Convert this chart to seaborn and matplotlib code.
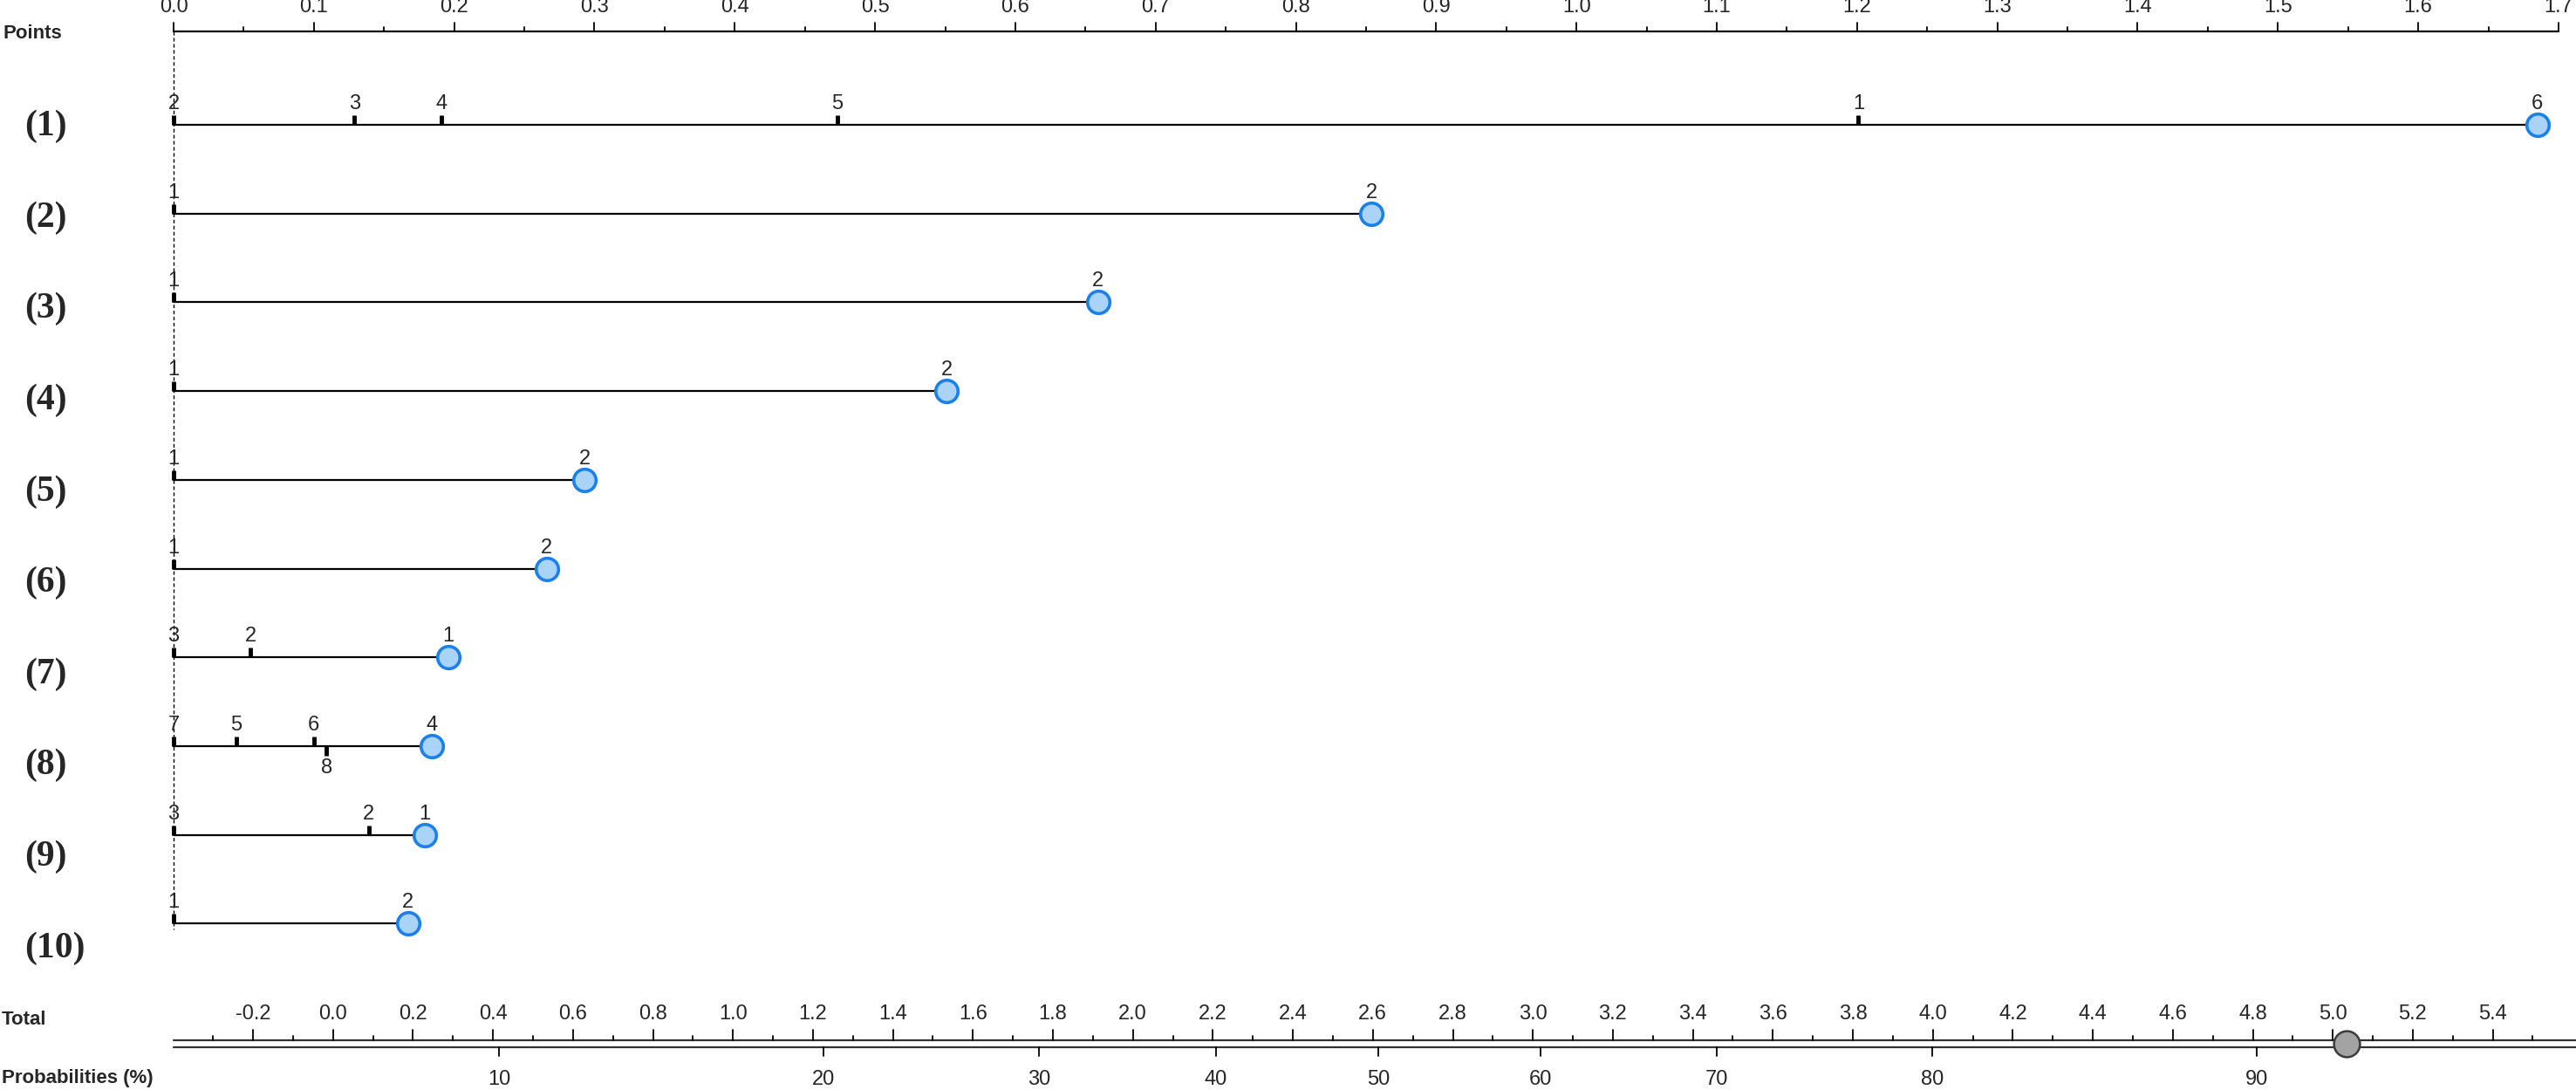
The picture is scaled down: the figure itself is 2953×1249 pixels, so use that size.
import numpy as np
import pandas as pd
import matplotlib
matplotlib.use("Agg")
import matplotlib.pyplot as plt
import seaborn as sns

sns.set_style("white")
plt.rcParams['font.family'] = ['Liberation Sans Narrow', 'Liberation Sans', 'DejaVu Sans']
plt.rcParams['axes.unicode_minus'] = False

# nomogram data
row_labels = ["(1)", "(2)", "(3)", "(4)", "(5)", "(6)", "(7)", "(8)", "(9)", "(10)"]
level_names = [
    ["2", "3", "4", "5", "1", "6"],
    ["1", "2"],
    ["1", "2"],
    ["1", "2"],
    ["1", "2"],
    ["1", "2"],
    ["3", "2", "1"],
    ["7", "5", "6", "8", "4"],
    ["3", "2", "1"],
    ["1", "2"],
]
level_points = [
    [0.0, 0.129, 0.191, 0.473, 1.201, 1.685],
    [0.0, 0.854],
    [0.0, 0.659],
    [0.0, 0.551],
    [0.0, 0.293],
    [0.0, 0.266],
    [0.0, 0.055, 0.196],
    [0.0, 0.0445, 0.100, 0.109, 0.184],
    [0.0, 0.139, 0.179],
    [0.0, 0.167],
]
selected = ["6", "2", "2", "2", "2", "2", "1", "4", "1", "2"]
below_labels = {7: ["8"]}  # labels drawn under the line

points_ticks = np.round(np.arange(0, 1.71, 0.1), 1)
total_ticks = np.round(np.arange(-0.2, 5.41, 0.2), 1)
prob_ticks = [10, 20, 30, 40, 50, 60, 70, 80, 90]
intercept = 2.613  # total at 50%

# layout (pixel rows)
W, H = 2953, 1249
y_points = 36
row_y = [143 + i * 101.7 for i in range(10)]
lab_y = [145 + i * 104.6 for i in range(10)]
y_tot1, y_tot2 = 1192, 1200

fig = plt.figure(figsize=(W / 100, H / 100), dpi=100)
ax = fig.add_axes([0, 0, 1, 1])
ax.set_xlim(-199 / 1608.2, (W - 199) / 1608.2)
ax.set_ylim(H, 0)
ax.axis("off")

axt = fig.add_axes([0, 0, 1, 1])
axt.set_xlim(-0.2 - 290 / 458.5, -0.2 + (W - 290) / 458.5)
axt.set_ylim(H, 0)
axt.axis("off")
axt.patch.set_alpha(0)

lab_font = dict(fontsize=17)

# Points axis
ax.text(-199 / 1608.2 + 0.002, y_points + 2, "Points", fontsize=16, fontweight="bold",
        ha="left", va="center")
ax.plot([0, 1.7], [y_points, y_points], color="black", lw=1.6)
for t in np.round(np.arange(0, 1.71, 0.05), 2):
    major = abs(t * 10 - round(t * 10)) < 1e-6
    ax.plot([t, t], [y_points, y_points - (10 if major else 5)], color="black", lw=1.3)
for t in points_ticks:
    ax.text(t, y_points - 17, f"{t:.1f}", ha="center", va="bottom", **lab_font)

# dashed reference line
ax.plot([0, 0], [y_points, 1065], color="black", lw=1.0, ls=(0, (3, 2)))

# variable rows
dots = []
for i, (lab, names, pts) in enumerate(zip(row_labels, level_names, level_points)):
    y = row_y[i]
    ax.text(-0.106, lab_y[i], lab, fontsize=30, fontweight="bold",
            family="Liberation Serif", ha="left", va="center")
    ax.plot([0, max(pts)], [y, y], color="black", lw=1.6)
    for n, p in zip(names, pts):
        below = n in below_labels.get(i, [])
        if n != selected[i]:
            if below:
                ax.plot([p, p], [y, y + 11], color="black", lw=3.5, solid_capstyle="butt")
            else:
                ax.plot([p, p], [y, y - 11], color="black", lw=3.5, solid_capstyle="butt")
        if below:
            ax.text(p, y + 14, n, ha="center", va="top", **lab_font)
        else:
            ax.text(p, y - 13, n, ha="center", va="bottom", **lab_font)
        if n == selected[i]:
            dots.append((p, y))

dot_df = pd.DataFrame(dots, columns=["x", "y"])
sns.scatterplot(data=dot_df, x="x", y="y", ax=ax, s=340, color="#a9d3f7",
                edgecolor="#1b80ea", linewidth=2.6, zorder=5)
ax.set_xlabel("")
ax.set_ylabel("")
ax.axis("off")

# Total / Probabilities axes
x0 = axt.get_xlim()[0] + 199 / 458.5
x1 = axt.get_xlim()[1]
axt.plot([x0, x1], [y_tot1, y_tot1], color="#333333", lw=1.6)
axt.plot([x0, x1], [y_tot2, y_tot2], color="#333333", lw=1.6)
axt.text(axt.get_xlim()[0] + 2 / 458.5, 1168, "Total", fontsize=16, fontweight="bold",
         ha="left", va="center")
axt.text(axt.get_xlim()[0] + 2 / 458.5, 1235, "Probabilities (%)", fontsize=16,
         fontweight="bold", ha="left", va="center")
for t in np.round(np.arange(-0.3, 5.51, 0.1), 1):
    major = abs(t * 5 - round(t * 5)) < 1e-6
    axt.plot([t, t], [y_tot1, y_tot1 - (12 if major else 5)], color="black", lw=1.3)
for t in total_ticks:
    axt.text(t, 1162, f"{t:.1f}", ha="center", va="center", **lab_font)
for p in prob_ticks:
    pr = p / 100
    t = intercept + np.log(pr / (1 - pr))
    axt.plot([t, t], [y_tot2, y_tot2 + 10], color="black", lw=1.3)
    axt.text(t, 1237, str(p), ha="center", va="center", **lab_font)

total = sum(max(p) for p in level_points)
tot_df = pd.DataFrame({"x": [total], "y": [(y_tot1 + y_tot2) / 2]})
sns.scatterplot(data=tot_df, x="x", y="y", ax=axt, s=460, color="#a3a3a3",
                edgecolor="#3c3c3c", linewidth=1.8, zorder=5)
axt.axis("off")

fig.savefig("out.png", dpi=100)
